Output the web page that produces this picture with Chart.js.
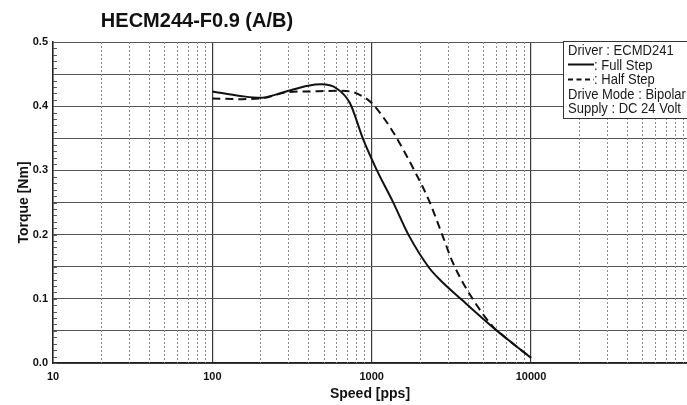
<!DOCTYPE html>
<html><head><meta charset="utf-8">
<script src="https://cdn.jsdelivr.net/npm/chart.js@4.4.1/dist/chart.umd.min.js"></script>
<style>html,body{margin:0;padding:0;background:#fff;overflow:hidden}#wrap{width:687px;height:405px;position:relative}</style>
</head><body><div id="wrap"><canvas id="c"></canvas></div>
<script>
const chartTitle = 'HECM244-F0.9 (A/B)';
const xTitle = 'Speed [pps]';
const yTitle = 'Torque [Nm]';
const fullStepSpeed  = [100, 150, 200, 250, 300, 400, 480, 600, 730, 880, 1070, 1360, 1700, 2300, 2700, 3700, 6000, 8000, 10000];
const fullStepTorque = [0.423, 0.416, 0.413, 0.418, 0.424, 0.432, 0.434, 0.428, 0.405, 0.350, 0.302, 0.251, 0.200, 0.148, 0.129, 0.098, 0.052, 0.027, 0.008];
const halfStepSpeed  = [100, 150, 200, 300, 400, 600, 730, 880, 1000, 1180, 1400, 1870, 2300, 2750, 3250, 4300, 5800, 6500, 8000, 10000];
const halfStepTorque = [0.412, 0.411, 0.412, 0.422, 0.423, 0.424, 0.423, 0.415, 0.405, 0.383, 0.355, 0.298, 0.252, 0.202, 0.155, 0.100, 0.056, 0.045, 0.027, 0.008];
const xMajorTicks = [10, 100, 1000, 10000];
const xMinorTicks = [20,30,40,50,60,70,80,90,200,300,400,500,600,700,800,900,2000,3000,4000,5000,6000,7000,8000,9000,20000,30000,40000,50000,60000,70000,80000,90000];
const yTicks = [0, 0.05, 0.1, 0.15, 0.2, 0.25, 0.3, 0.35, 0.4, 0.45, 0.5];
const yMinorTicks = [];
for (let i = 0; i <= 50; i++) yMinorTicks.push(i / 100);
const legendLines = ['Driver : ECMD241', ': Full Step', ': Half Step', 'Drive Mode : Bipolar', 'Supply : DC 24 Volt'];

const FONT = '"Liberation Sans", Arial, Helvetica, sans-serif';
const toXY = (xs, ys) => xs.map((x, i) => ({x: x, y: ys[i]}));
const isMajor = v => xMajorTicks.some(m => Math.abs(m - v) < 1e-6);

const decor = {
  id: 'decor',
  beforeDatasetsDraw(chart) {
    const {ctx, chartArea: a, scales: {x, y}} = chart;
    ctx.save();
    ctx.strokeStyle = '#8a8a8a';
    ctx.lineWidth = 1;
    ctx.setLineDash([2, 2]);
    xMinorTicks.forEach(v => {
      const px = Math.round(x.getPixelForValue(v)) + 0.5;
      if (px < a.left || px > a.right) return;
      ctx.beginPath(); ctx.moveTo(px, a.top); ctx.lineTo(px, a.bottom); ctx.stroke();
    });
    ctx.setLineDash([]);
    ctx.strokeStyle = '#555';
    yMinorTicks.forEach(v => {
      const py = Math.round(y.getPixelForValue(v)) + 0.5;
      ctx.beginPath(); ctx.moveTo(a.left, py); ctx.lineTo(a.left + 4, py); ctx.stroke();
    });
    ctx.restore();
  },
  afterDraw(chart) {
    const {ctx, chartArea: a} = chart;
    ctx.save();
    ctx.fillStyle = '#111';
    ctx.font = 'bold 20px ' + FONT;
    ctx.textAlign = 'center';
    ctx.textBaseline = 'alphabetic';
    ctx.fillText(chartTitle, 197, 27);
    // legend box
    const bx = 563, by = a.top - 1, bw = 140, bh = 77;
    ctx.fillStyle = '#fff';
    ctx.fillRect(bx, by, bw, bh);
    ctx.strokeStyle = '#333';
    ctx.lineWidth = 1;
    ctx.strokeRect(bx + 0.5, by + 0.5, bw, bh);
    ctx.fillStyle = '#1a1a1a';
    ctx.font = '14px ' + FONT;
    ctx.textAlign = 'left';
    const base = [55, 69.5, 84, 98.5, 113];
    legendLines.forEach((t, i) => {
      let tx = 568;
      if (i === 1 || i === 2) tx = 594;
      ctx.save();
      ctx.translate(tx, base[i]);
      ctx.scale(0.93, 1);
      ctx.fillText(t, 0, 0);
      ctx.restore();
    });
    ctx.strokeStyle = '#111';
    ctx.lineWidth = 2;
    ctx.beginPath(); ctx.moveTo(568, 64.5); ctx.lineTo(594, 64.5); ctx.stroke();
    ctx.setLineDash([5, 3.5]);
    ctx.beginPath(); ctx.moveTo(568, 79.5); ctx.lineTo(594, 79.5); ctx.stroke();
    ctx.restore();
  }
};

new Chart(document.getElementById('c'), {
  type: 'line',
  data: {
    datasets: [
      {label: 'Full Step', data: toXY(fullStepSpeed, fullStepTorque), borderColor: '#111', borderWidth: 2, pointRadius: 0, cubicInterpolationMode: 'monotone', fill: false},
      {label: 'Half Step', data: toXY(halfStepSpeed, halfStepTorque), borderColor: '#111', borderWidth: 2, borderDash: [8, 5], pointRadius: 0, cubicInterpolationMode: 'monotone', fill: false}
    ]
  },
  options: {
    responsive: true,
    maintainAspectRatio: false,
    animation: false,
    layout: {padding: {top: 42, left: 0, right: 0, bottom: 0}},
    plugins: {legend: {display: false}, tooltip: {enabled: false}, title: {display: false}},
    scales: {
      x: {
        type: 'logarithmic',
        min: 10, max: 95300,
        afterBuildTicks(s) { s.ticks = xMajorTicks.map(v => ({value: v, major: true})); },
        afterFit(s) { s.height = 42; },
        ticks: {
          autoSkip: false, maxRotation: 0, minRotation: 0, padding: 7,
          color: '#111', font: {family: FONT, size: 11, weight: 'bold'},
          callback: v => isMajor(v) ? String(v) : ''
        },
        grid: {color: '#3a3a3a', lineWidth: 1.2, drawTicks: false},
        border: {color: '#222', width: 1.5},
        title: {display: true, text: xTitle, color: '#111', font: {family: FONT, size: 14, weight: 'bold'}, padding: {top: 4, bottom: 2}}
      },
      y: {
        min: 0, max: 0.5,
        afterBuildTicks(s) { s.ticks = yTicks.map(v => ({value: v})); },
        afterFit(s) { s.width = 53; },
        ticks: {
          autoSkip: false, padding: 5,
          color: '#111', font: {family: FONT, size: 11, weight: 'bold'},
          callback: v => (Math.abs(v * 10 - Math.round(v * 10)) < 1e-6 ? v.toFixed(1) : '')
        },
        grid: {color: '#555', lineWidth: 1, drawTicks: false},
        border: {color: '#222', width: 1.5},
        title: {display: true, text: yTitle, color: '#111', font: {family: FONT, size: 14, weight: 'bold'}, padding: {top: 16, bottom: 0}}
      }
    }
  },
  plugins: [decor]
});
</script></body></html>
